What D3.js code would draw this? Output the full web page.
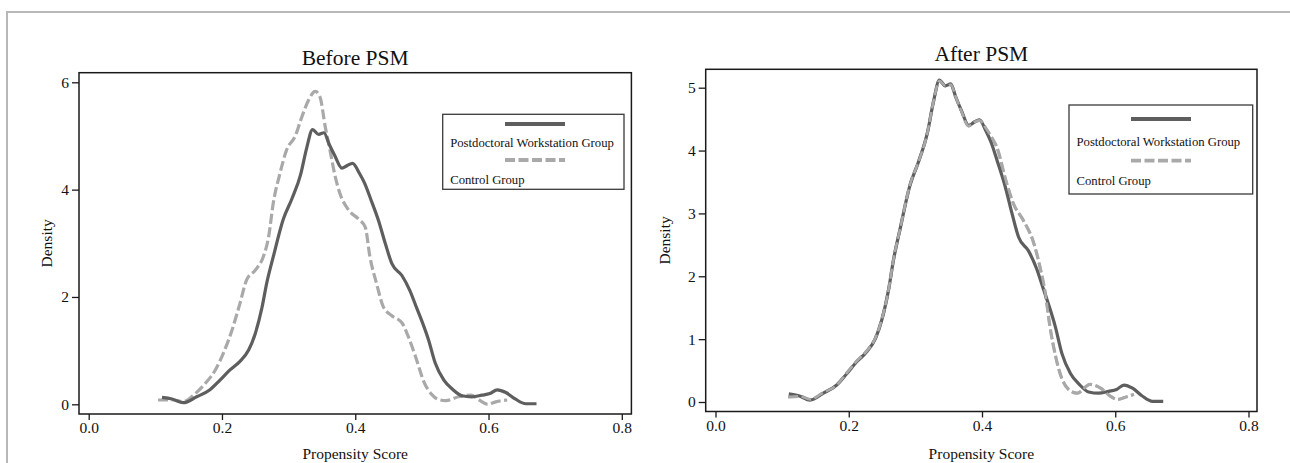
<!DOCTYPE html>
<html>
<head>
<meta charset="utf-8">
<script src="https://cdn.jsdelivr.net/npm/d3@7"></script>
<style>
  html, body { margin: 0; padding: 0; background: #fff; }
  svg { display: block; font-family: "Liberation Serif", "Times New Roman", serif; }
</style>
</head>
<body>
<svg id="chart" width="1290" height="463"></svg>
<script>
// Kernel density of the propensity score: [score, density]
const treatedDensity = [
  [0.110, 0.13], [0.125, 0.10], [0.142, 0.03], [0.162, 0.14], [0.182, 0.27],
  [0.197, 0.45], [0.212, 0.64], [0.227, 0.80], [0.240, 1.01], [0.250, 1.32],
  [0.260, 1.80], [0.267, 2.25], [0.277, 2.75], [0.292, 3.45], [0.305, 3.83],
  [0.318, 4.28], [0.327, 4.77], [0.336, 5.12], [0.345, 5.03], [0.353, 5.06],
  [0.361, 4.84], [0.369, 4.64], [0.380, 4.40], [0.388, 4.45], [0.396, 4.49],
  [0.406, 4.31], [0.414, 4.12], [0.423, 3.83], [0.435, 3.42], [0.445, 3.00],
  [0.455, 2.62], [0.470, 2.40], [0.482, 2.12], [0.492, 1.80], [0.500, 1.55],
  [0.510, 1.20], [0.520, 0.77], [0.533, 0.45], [0.546, 0.28], [0.560, 0.16],
  [0.575, 0.14], [0.590, 0.17], [0.602, 0.20], [0.613, 0.27], [0.626, 0.22],
  [0.640, 0.10], [0.656, 0.01], [0.672, 0.01]
];

const controlBefore = [
  [0.104, 0.08], [0.127, 0.08], [0.142, 0.05], [0.160, 0.20], [0.175, 0.39],
  [0.190, 0.64], [0.202, 0.95], [0.215, 1.38], [0.227, 1.88], [0.237, 2.32],
  [0.250, 2.50], [0.262, 2.75], [0.270, 3.12], [0.277, 3.75], [0.287, 4.30],
  [0.297, 4.74], [0.310, 5.00], [0.320, 5.36], [0.330, 5.67], [0.340, 5.83],
  [0.347, 5.73], [0.355, 5.17], [0.362, 4.74], [0.370, 4.24], [0.377, 3.93],
  [0.390, 3.62], [0.405, 3.45], [0.415, 3.30], [0.422, 2.75], [0.432, 2.25],
  [0.442, 1.82], [0.455, 1.65], [0.470, 1.52], [0.480, 1.25], [0.492, 0.83],
  [0.503, 0.42], [0.515, 0.18], [0.525, 0.09], [0.536, 0.07], [0.555, 0.14],
  [0.574, 0.17], [0.586, 0.08], [0.599, 0.00], [0.612, 0.05], [0.628, 0.08]
];

const controlAfter = [
  [0.109, 0.08], [0.127, 0.09], [0.142, 0.04], [0.162, 0.15], [0.182, 0.27],
  [0.197, 0.46], [0.212, 0.65], [0.227, 0.81], [0.240, 1.02], [0.250, 1.33],
  [0.260, 1.80], [0.267, 2.26], [0.277, 2.75], [0.292, 3.46], [0.305, 3.83],
  [0.318, 4.28], [0.327, 4.77], [0.336, 5.11], [0.345, 5.03], [0.353, 5.05],
  [0.361, 4.84], [0.369, 4.63], [0.380, 4.39], [0.388, 4.45], [0.396, 4.48],
  [0.406, 4.35], [0.415, 4.20], [0.422, 4.06], [0.437, 3.48], [0.447, 3.16],
  [0.462, 2.89], [0.477, 2.55], [0.487, 2.15], [0.495, 1.73], [0.502, 1.20],
  [0.510, 0.75], [0.517, 0.46], [0.530, 0.20], [0.543, 0.14], [0.562, 0.28],
  [0.578, 0.22], [0.593, 0.09], [0.603, 0.04], [0.616, 0.08], [0.628, 0.12]
];

const xTicks = [0.0, 0.2, 0.4, 0.6, 0.8];
const yTicksBefore = [0, 2, 4, 6];
const yTicksAfter = [0, 1, 2, 3, 4, 5];
const seriesNames = ["Postdoctoral Workstation Group", "Control Group"];

const svg = d3.select("#chart");

// Gray frame round the whole figure (only top and left edges are in view)
svg.append("path")
  .attr("d", "M7,463 L7,12 L1290,12")
  .attr("fill", "none")
  .attr("stroke", "#b8b8b8")
  .attr("stroke-width", 2);

const lineStyles = [
  { stroke: "#5e5e5e", dash: null },
  { stroke: "#a9a9a9", dash: "10,3.5" }
];

function drawPanel(cfg) {
  const g = svg.append("g");
  const { box } = cfg;

  const x = d3.scaleLinear().domain([0, 0.8]).range(cfg.xRange);
  const y = d3.scaleLinear().domain([0, cfg.yMax]).range(cfg.yRange);

  // Plot frame
  g.append("rect")
    .attr("x", box.x0).attr("y", box.y0)
    .attr("width", box.x1 - box.x0).attr("height", box.y1 - box.y0)
    .attr("fill", "none").attr("stroke", "#1a1a1a").attr("stroke-width", 1.5);

  // Axes
  const xAxis = d3.axisBottom(x).tickValues(xTicks).tickFormat(d3.format(".1f"))
    .tickSize(6).tickPadding(2);
  g.append("g").attr("transform", `translate(0,${box.y1})`).call(xAxis)
    .call((s) => s.select(".domain").remove());

  const yAxis = d3.axisLeft(y).tickValues(cfg.yTicks).tickFormat(d3.format("d"))
    .tickSize(7).tickPadding(3);
  g.append("g").attr("transform", `translate(${box.x0},0)`).call(yAxis)
    .call((s) => s.select(".domain").remove());

  g.selectAll(".tick line").attr("stroke", "#1a1a1a").attr("stroke-width", 1.3);
  g.selectAll(".tick text")
    .attr("font-size", 15.5)
    .attr("font-family", "Liberation Serif")
    .attr("fill", "#111");

  // Titles and axis labels
  const cx = (box.x0 + box.x1) / 2;
  g.append("text").attr("x", cx).attr("y", cfg.titleY)
    .attr("text-anchor", "middle").attr("font-size", 21.5).attr("fill", "#111")
    .text(cfg.title);
  g.append("text").attr("x", cx).attr("y", 459)
    .attr("text-anchor", "middle").attr("font-size", 15.5).attr("fill", "#111")
    .text("Propensity Score");
  g.append("text")
    .attr("transform", `translate(${cfg.yLabelX},${(box.y0 + box.y1) / 2}) rotate(-90)`)
    .attr("text-anchor", "middle").attr("font-size", 15.5).attr("fill", "#111")
    .text("Density");

  // Density curves: control underneath, treated on top
  const line = d3.line().x((d) => x(d[0])).y((d) => y(d[1])).curve(d3.curveMonotoneX);
  [1, 0].forEach((i) => {
    g.append("path")
      .datum(cfg.series[i])
      .attr("d", line)
      .attr("fill", "none")
      .attr("stroke", lineStyles[i].stroke)
      .attr("stroke-width", 3.2)
      .attr("stroke-linejoin", "round")
      .attr("stroke-dasharray", lineStyles[i].dash);
  });
  // where the two curves coincide the gray dashes still show over the dark line
  if (cfg.dashOnTop) {
    g.append("path")
      .datum(cfg.series[1])
      .attr("d", line)
      .attr("fill", "none")
      .attr("stroke", lineStyles[1].stroke)
      .attr("stroke-width", 2.6)
      .attr("stroke-dasharray", lineStyles[1].dash);
  }

  // Legend
  const L = cfg.legend;
  g.append("rect")
    .attr("x", L.x0).attr("y", L.y0)
    .attr("width", L.x1 - L.x0).attr("height", L.y1 - L.y0)
    .attr("fill", "#fff").attr("stroke", "#3a3a3a").attr("stroke-width", 1.3);
  seriesNames.forEach((name, i) => {
    g.append("line")
      .attr("x1", L.symX0).attr("x2", L.symX0 + 60)
      .attr("y1", L.symY[i]).attr("y2", L.symY[i])
      .attr("stroke", lineStyles[i].stroke).attr("stroke-width", 3.8)
      .attr("stroke-dasharray", lineStyles[i].dash);
    g.append("text")
      .attr("x", L.x0 + 7.5).attr("y", L.textY[i] + 4.4)
      .attr("font-size", 12.7).attr("fill", "#111")
      .text(name);
  });
}

drawPanel({
  title: "Before PSM",
  titleY: 65,
  box: { x0: 79, x1: 631.4, y0: 72.7, y1: 414 },
  xRange: [88.7, 621.8],
  yMax: 6,
  yRange: [404.3, 82.3],
  yTicks: yTicksBefore,
  yLabelX: 52,
  series: [treatedDensity, controlBefore],
  dashOnTop: false,
  legend: { x0: 442.7, x1: 624, y0: 114.3, y1: 189.3, symX0: 505, symY: [124, 160], textY: [143, 180] }
});

drawPanel({
  title: "After PSM",
  titleY: 60.5,
  box: { x0: 705.7, x1: 1257, y0: 69.3, y1: 411.5 },
  xRange: [715.5, 1248.5],
  yMax: 5,
  yRange: [402, 87.7],
  yTicks: yTicksAfter,
  yLabelX: 670,
  series: [treatedDensity, controlAfter],
  dashOnTop: true,
  legend: { x0: 1069, x1: 1252.7, y0: 105, y1: 194, symX0: 1131, symY: [119, 160.7], textY: [141.7, 180.7] }
});
</script>
</body>
</html>
